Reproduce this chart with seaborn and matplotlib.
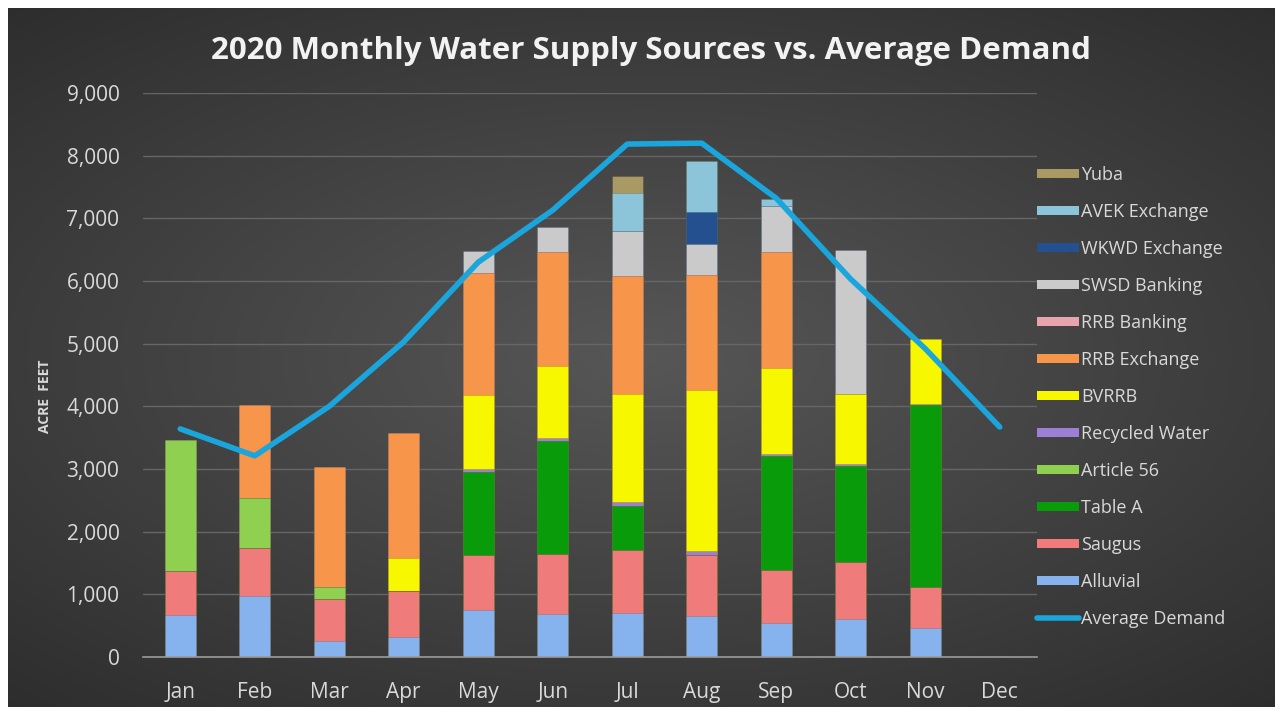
import numpy as np
import pandas as pd
import matplotlib
matplotlib.use("Agg")
import matplotlib.pyplot as plt
from matplotlib.patches import Patch
from matplotlib.lines import Line2D
import seaborn as sns

months = ["Jan", "Feb", "Mar", "Apr", "May", "Jun", "Jul", "Aug", "Sep", "Oct", "Nov", "Dec"]

alluvial       = [670, 975, 255, 325, 755, 690, 700, 660, 550, 605, 455, 0]
saugus         = [700, 770, 670, 730, 865, 960, 1015, 975, 840, 915, 660, 0]
table_a        = [0, 0, 0, 0, 1325, 1800, 690, 0, 1810, 1530, 2900, 0]
article_56     = [2090, 790, 200, 0, 0, 0, 0, 0, 0, 0, 0, 0]
recycled_water = [0, 0, 0, 0, 50, 50, 70, 60, 40, 30, 30, 0]
bvrrb          = [0, 0, 0, 530, 1180, 1145, 1715, 2565, 1375, 1110, 1035, 0]
rrb_exchange   = [0, 1490, 1900, 1995, 1950, 1810, 1885, 1840, 1840, 0, 0, 0]
rrb_banking    = [0, 0, 0, 0, 0, 0, 0, 0, 0, 0, 0, 0]
swsd_banking   = [0, 0, 0, 0, 360, 400, 725, 495, 740, 2310, 0, 0]
wkwd_exchange  = [0, 0, 0, 0, 0, 0, 0, 505, 0, 0, 0, 0]
avek_exchange  = [0, 0, 0, 0, 0, 0, 605, 815, 110, 0, 0, 0]
yuba           = [0, 0, 0, 0, 0, 0, 265, 0, 0, 0, 0, 0]
average_demand = [3640, 3210, 4000, 5030, 6300, 7130, 8185, 8200, 7320, 6030, 4920, 3670]

series_names = ["Alluvial", "Saugus", "Table A", "Article 56", "Recycled Water", "BVRRB",
                "RRB Exchange", "RRB Banking", "SWSD Banking", "WKWD Exchange",
                "AVEK Exchange", "Yuba"]
series_values = [alluvial, saugus, table_a, article_56, recycled_water, bvrrb,
                 rrb_exchange, rrb_banking, swsd_banking, wkwd_exchange,
                 avek_exchange, yuba]
colors = ["#86b3ee", "#ef7b7b", "#0a9b0a", "#8fd050", "#9d7fd6", "#f7f700",
          "#f7964a", "#e8a4ae", "#cacaca", "#24508f", "#8cc4da", "#a89a62"]
demand_color = "#1aa6dc"

sns.set_theme(style="dark")
plt.rcParams["font.family"] = ["Open Sans", "DejaVu Sans"]

W, H = 1281, 715
fig = plt.figure(figsize=(W / 100, H / 100), dpi=100, facecolor="white")

# dark gradient panel
bg = fig.add_axes([8 / W, 8 / H, (1275 - 8) / W, (707 - 8) / H])
yy, xx = np.mgrid[-1:1:300j, -1:1:500j]
r = np.sqrt((xx * 0.9) ** 2 + (yy * 1.0) ** 2)
val = 0.34 - 0.12 * np.clip(r, 0, 1.4)
bg.imshow(np.dstack([val, val, val]), aspect="auto", extent=[0, 1, 0, 1])
bg.set_axis_off()
bg.set_zorder(-10)

ax = fig.add_axes([143 / W, 58 / H, (1037 - 143) / W, (657 - 93) / H])
ax.set_facecolor("none")

cum = np.zeros(len(months))
cums = []
for vals in series_values:
    cum = cum + np.array(vals, dtype=float)
    cums.append(cum.copy())

# draw cumulative tops from top layer down so lower layers overlay
for name, color, c in reversed(list(zip(series_names, colors, cums))):
    d = pd.DataFrame({"month": months, "value": c})
    sns.barplot(data=d, x="month", y="value", color=color, width=0.42,
                saturation=1, ax=ax, edgecolor=(0, 0, 0, 0.15), linewidth=0.6)

sns.lineplot(x=np.arange(len(months)), y=average_demand, color=demand_color,
             linewidth=4, ax=ax, solid_capstyle="round", zorder=5)

ax.set_xlim(-0.5, 11.5)
ax.set_ylim(0, 9000)
ax.set_yticks(np.arange(0, 9001, 1000))
ax.set_yticklabels([f"{v:,}" for v in range(0, 9001, 1000)])
ax.set_xticks(np.arange(len(months)))
ax.set_xticklabels(months)
ax.set_xlabel("")
ax.set_ylabel("")
ax.grid(axis="y", color="#666666", linewidth=1)
ax.grid(axis="x", visible=False)
ax.set_axisbelow(True)
for s in ["top", "right", "left"]:
    ax.spines[s].set_visible(False)
ax.spines["bottom"].set_color("#9a9a9a")
ax.spines["bottom"].set_linewidth(1.2)
ax.tick_params(axis="y", colors="#d9d9d9", labelsize=15, pad=17, length=0)
ax.tick_params(axis="x", colors="#d9d9d9", labelsize=15, pad=18, length=0)

fig.text(0.508, 0.928, "2020 Monthly Water Supply Sources vs. Average Demand",
         ha="center", va="center", fontsize=22.5, fontweight="bold", color="#f2f2f2")
fig.text(45 / W, 1 - 396 / H, "ACRE  FEET", rotation=90, ha="center", va="center",
         fontsize=10, fontweight="bold", color="#d9d9d9")

handles = [Patch(facecolor=c, edgecolor="none", label=n)
           for n, c in zip(series_names, colors)][::-1]
handles.append(Line2D([0], [0], color=demand_color, linewidth=4, label="Average Demand"))
leg = fig.legend(handles=handles, loc="upper left",
                 bbox_to_anchor=(1030 / W, 1 - 159 / H), frameon=False,
                 fontsize=13, labelcolor="#d9d9d9", handlelength=2.3,
                 handleheight=0.4, handletextpad=0.12, labelspacing=1.05,
                 borderaxespad=0)

fig.savefig("out.png", dpi=100, facecolor="white")
